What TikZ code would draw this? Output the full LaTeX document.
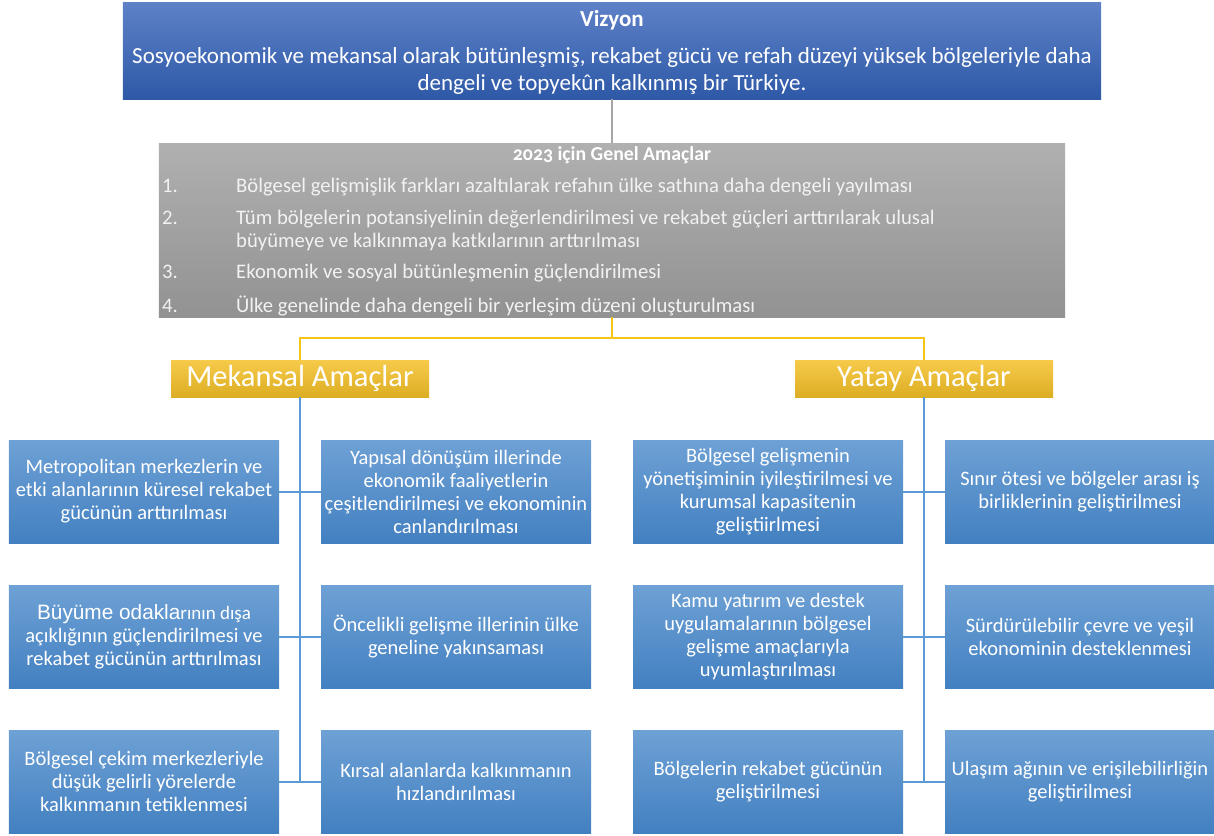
\documentclass[tikz,border=0pt]{standalone}
\usepackage{fontspec}
\setmainfont{Carlito}
\newfontfamily\oldnum[Numbers=OldStyle]{Carlito}
\newfontfamily\arialish{Liberation Sans}
\definecolor{vizTop}{HTML}{5E81C7}
\definecolor{vizBot}{HTML}{2E59A7}
\definecolor{grTop}{HTML}{B0B0B0}
\definecolor{grBot}{HTML}{929292}
\definecolor{yeTop}{HTML}{F6CA4A}
\definecolor{yeMid}{HTML}{F5C11F}
\definecolor{yeBot}{HTML}{DDAE24}
\definecolor{blTop}{HTML}{6EA1D5}
\definecolor{blBot}{HTML}{4380C1}
\definecolor{yLine}{HTML}{F5C518}
\definecolor{bLine}{HTML}{5B9BD5}
\definecolor{gLine}{HTML}{A6A6A6}
\definecolor{itemTxt}{HTML}{F2F2F2}
\tikzset{
  vizbox/.style={draw=none, top color=vizTop, bottom color=vizBot, minimum width=978bp, minimum height=96bp, inner sep=0pt},
  graybox/.style={draw=none, top color=grTop, bottom color=grBot, minimum width=906bp, minimum height=174bp, inner sep=0pt},
  headbox/.style={draw=none, top color=yeTop, middle color=yeMid, bottom color=yeBot, minimum width=258bp, minimum height=37bp, inner sep=0pt, text=white, font=\fontsize{30.5bp}{32bp}\selectfont},
  goalbox/.style={draw=none, top color=blTop, bottom color=blBot, minimum width=270bp, minimum height=103bp, inner sep=0pt, text=white, align=center, font=\fontsize{20.5bp}{23bp}\selectfont},
  itemtxt/.style={anchor=base west, inner sep=0pt, text=itemTxt, font=\fontsize{20.7bp}{23bp}\selectfont},
  yconn/.style={draw=yLine, line width=2bp},
  bconn/.style={draw=bLine, line width=2bp},
  gconn/.style={draw=gLine, line width=1.5bp},
}
\begin{document}
\begin{tikzpicture}[x=1bp,y=-1bp]
\useasboundingbox (0,0) rectangle (1214,836);
% Vision
\node[vizbox] (viz) at (612,51) {};
\node[text=white, inner sep=0pt, font=\bfseries\fontsize{23bp}{24bp}\selectfont] (viztitle) at (612,20) {Vizyon};
\node[text=white, inner sep=0pt, align=center, font=\fontsize{23bp}{27bp}\selectfont] (viztext) at (612,71) {Sosyoekonomik ve mekansal olarak bütünleşmiş, rekabet gücü ve refah düzeyi yüksek bölgeleriyle daha\\dengeli ve topyekûn kalkınmış bir Türkiye.};
% General goals
\node[graybox] (gray) at (612,230) {};
\draw[gconn] (viz.south) -- (gray.north);
\node[text=white, inner sep=0pt, font=\oldnum\bfseries\fontsize{19.8bp}{20bp}\selectfont] (graytitle) at (612,155) {2023 için Genel Amaçlar};
\node[itemtxt] (n1) at (162,192) {1.};
\node[itemtxt] (t1) at (236,192) {Bölgesel gelişmişlik farkları azaltılarak refahın ülke sathına daha dengeli yayılması};
\node[itemtxt] (n2) at (162,224) {2.};
\node[itemtxt] (t2) at (236,224) {Tüm bölgelerin potansiyelinin değerlendirilmesi ve rekabet güçleri arttırılarak ulusal};
\node[itemtxt] (t2b) at (236,247) {büyümeye ve kalkınmaya katkılarının arttırılması};
\node[itemtxt] (n3) at (162,278) {3.};
\node[itemtxt] (t3) at (236,278) {Ekonomik ve sosyal bütünleşmenin güçlendirilmesi};
\node[itemtxt] (n4) at (162,312) {4.};
\node[itemtxt] (t4) at (236,312) {Ülke genelinde daha dengeli bir yerleşim düzeni oluşturulması};
% Heads
\node[headbox] (mek) at (300,378.5) {Mekansal Amaçlar};
\node[headbox] (yat) at (924,378.5) {Yatay Amaçlar};
\coordinate (ybar) at (612,338);
\draw[yconn] (gray.south) -- (ybar);
\draw[yconn] (mek.north) -- (mek.north |- ybar) -- (yat.north |- ybar) -- (yat.north);
% Mekansal goals
\node[goalbox] (m1l) at (144,491.5) {Metropolitan merkezlerin ve\\etki alanlarının küresel rekabet\\gücünün arttırılması};
\node[goalbox] (m1r) at (456,491.5) {Yapısal dönüşüm illerinde\\ekonomik faaliyetlerin\\çeşitlendirilmesi ve ekonominin\\canlandırılması};
\node[goalbox] (m2l) at (144,636.5) {{\arialish\fontsize{20.8bp}{23bp}\selectfont Büyüme odakla}{\fontsize{19bp}{23bp}\selectfont rının dışa}\\açıklığının güçlendirilmesi ve\\rekabet gücünün arttırılması};
\node[goalbox] (m2r) at (456,636.5) {Öncelikli gelişme illerinin ülke\\geneline yakınsaması};
\node[goalbox] (m3l) at (144,781.5) {Bölgesel çekim merkezleriyle\\düşük gelirli yörelerde\\kalkınmanın tetiklenmesi};
\node[goalbox] (m3r) at (456,781.5) {Kırsal alanlarda kalkınmanın\\hızlandırılması};
% Yatay goals
\node[goalbox] (y1l) at (768,491.5) {Bölgesel gelişmenin\\yönetişiminin iyileştirilmesi ve\\kurumsal kapasitenin\\geliştiirlmesi};
\node[goalbox] (y1r) at (1080,491.5) {Sınır ötesi ve bölgeler arası iş\\birliklerinin geliştirilmesi};
\node[goalbox] (y2l) at (768,636.5) {Kamu yatırım ve destek\\uygulamalarının bölgesel\\gelişme amaçlarıyla\\uyumlaştırılması};
\node[goalbox] (y2r) at (1080,636.5) {Sürdürülebilir çevre ve yeşil\\ekonominin desteklenmesi};
\node[goalbox] (y3l) at (768,781.5) {Bölgelerin rekabet gücünün\\geliştirilmesi};
\node[goalbox] (y3r) at (1080,781.5) {Ulaşım ağının ve erişilebilirliğin\\geliştirilmesi};
% Blue connectors
\coordinate (mend) at (300,781.5);
\coordinate (yend) at (924,781.5);
\draw[bconn] (mek.south) -- (mend);
\draw[bconn] (yat.south) -- (yend);
\foreach \a/\b in {m1l/m1r,m2l/m2r,m3l/m3r,y1l/y1r,y2l/y2r,y3l/y3r}{
  \draw[bconn] (\a.east) -- (\b.west);
}
\end{tikzpicture}
\end{document}
